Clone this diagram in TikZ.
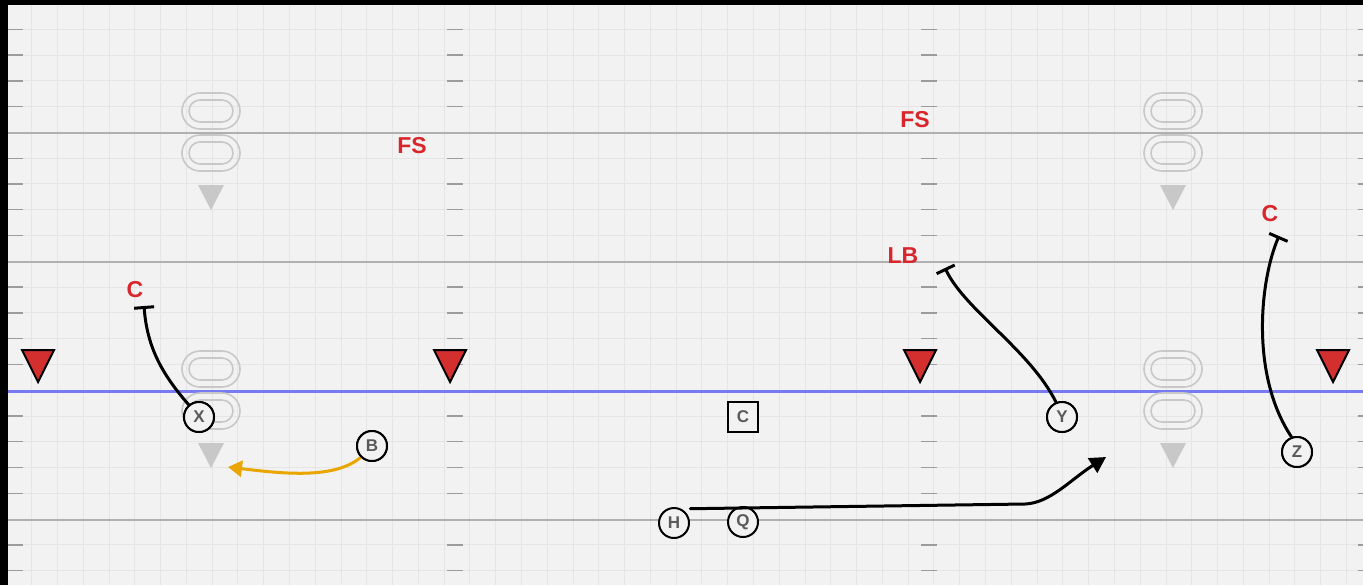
\documentclass[tikz,border=0pt]{standalone}
\usepackage{fontspec}
\setmainfont{Liberation Sans}
\usetikzlibrary{arrows.meta}
\definecolor{fieldbg}{HTML}{F2F2F2}
\definecolor{gridc}{HTML}{E5E5E5}
\definecolor{majorc}{HTML}{B0B0B0}
\definecolor{tickc}{HTML}{9C9C9C}
\definecolor{losc}{HTML}{7A7AF0}
\definecolor{ghostc}{HTML}{C8C8C8}
\definecolor{defred}{HTML}{D9262C}
\definecolor{tri}{HTML}{D32F2F}
\definecolor{letterc}{HTML}{5A5A5A}
\definecolor{orangec}{HTML}{E9A500}
\begin{document}
\begin{tikzpicture}[x=0.5pt,y=-0.5pt,
  gridl/.style={draw=gridc,line width=0.5pt},
  majorl/.style={draw=majorc,line width=1.2pt},
  losl/.style={draw=losc,line width=1.5pt},
  tickl/.style={draw=tickc,line width=0.7pt},
  ghost/.style={draw=ghostc,line width=0.8pt},
  ghosttri/.style={fill=ghostc},
  redtri/.style={fill=tri,draw=black,line width=1pt,line join=miter},
  player/.style={circle,draw=black,line width=1pt,fill=fieldbg,minimum size=15pt,inner sep=0pt,
    font=\fontsize{8.5pt}{9pt}\selectfont\bfseries,text=letterc},
  centerbox/.style={rectangle,draw=black,line width=1pt,fill=fieldbg,minimum size=15pt,inner sep=0pt,
    font=\fontsize{8.5pt}{9pt}\selectfont\bfseries,text=letterc},
  deflabel/.style={inner sep=0pt,text=defred,font=\fontsize{11.5pt}{12pt}\selectfont\bfseries},
  route/.style={draw=black,line width=1.5pt,line cap=round},
  blockend/.style={-{Bar[width=10pt,line width=1.5pt]}},
  arrowend/.style={-{Triangle[length=8pt,width=8.5pt]}},
  motion/.style={draw=orangec,line width=1.5pt,line cap=round,-{Triangle[length=7pt,width=8pt]}}
]
\useasboundingbox (0,0) rectangle (1363,585);
\fill[black] (0,0) rectangle (1363,585);
\fill[fieldbg] (8,5) rectangle (1363,585);
% grid
\foreach \i in {1,...,52}{
  \draw[gridl] ({5.9+25.78*\i},5) -- ({5.9+25.78*\i},585);
}
\foreach \k in {0,...,21}{
  \draw[gridl] (8,{29.3+25.78*\k}) -- (1363,{29.3+25.78*\k});
}
% major lines
\draw[majorl] (8,133) -- (1363,133);
\draw[majorl] (8,262) -- (1363,262);
\draw[majorl] (8,520) -- (1363,520);
\draw[losl] (8,391) -- (1363,391);
% ticks
\foreach \k in {0,...,21}{
  \pgfmathsetmacro\yy{29.3+25.78*\k}
  \pgfmathtruncatemacro\mm{mod(\k,5)}
  \ifnum\mm=4\relax\else
    \draw[tickl] (8,\yy) -- (23,\yy);
    \draw[tickl] (447,\yy) -- (463,\yy);
    \draw[tickl] (921,\yy) -- (937,\yy);
    \draw[tickl] (1358,\yy) -- (1363,\yy);
  \fi
}
% ghost formations
\foreach \gx/\gy in {211/111,1173/111,211/369,1173/369}{
  \foreach \dy in {0,42}{
    \draw[ghost,rounded corners=9pt] ({\gx-29},{\gy+\dy-18}) rectangle ({\gx+29},{\gy+\dy+18});
    \draw[ghost,rounded corners=5.5pt] ({\gx-22},{\gy+\dy-11}) rectangle ({\gx+22},{\gy+\dy+11});
  }
  \fill[ghosttri] ({\gx-13},{\gy+74}) -- ({\gx+13},{\gy+74}) -- (\gx,{\gy+99}) -- cycle;
}
% red triangles
\foreach \tx in {38,450,920,1333}{
  \draw[redtri] ({\tx-16},350) -- ({\tx+16},350) -- (\tx,382) -- cycle;
}
% players
\node[player] (X) at (199,417) {X};
\node[player] (B) at (372,446) {B};
\node[player] (H) at (674,523) {H};
\node[player] (Q) at (743,522) {Q};
\node[player] (Y) at (1062,417) {Y};
\node[player] (Z) at (1297,452) {Z};
\node[centerbox] (C) at (743,417) {C};
% labels
\node[deflabel] (fs1) at (412,146) {FS};
\node[deflabel] (fs2) at (915,120) {FS};
\node[deflabel] (c1) at (135,290) {C};
\node[deflabel] (lb) at (903,256) {LB};
\node[deflabel] (c2) at (1270,214) {C};
% route end points
\coordinate (xend) at (144,306);
\coordinate (yend) at (945,268);
\coordinate (zend) at (1279,236);
\coordinate (hturn) at (1025,504);
\coordinate (hend) at (1106,457);
\coordinate (bend) at (228,467);
% routes
\draw[route,blockend] (X.130) .. controls (160,372) and (147,345) .. (xend);
\draw[route,blockend] (Y.112) .. controls (1030,350) and (965,310) .. (yend);
\draw[route,blockend] (Z.110) .. controls (1250,375) and (1260,280) .. (zend);
\draw[route,arrowend] ([xshift=2pt,yshift=2pt]H.40) -- (hturn) .. controls (1050,503) and (1070,480) .. (hend);
\draw[motion] (B.225) .. controls (335,479) and (285,474) .. (bend);
% redraw route starters on top
\node[player] at (X) {X};
\node[player] at (Y) {Y};
\node[player] at (Z) {Z};
\node[player] at (B) {B};
\end{tikzpicture}
\end{document}
